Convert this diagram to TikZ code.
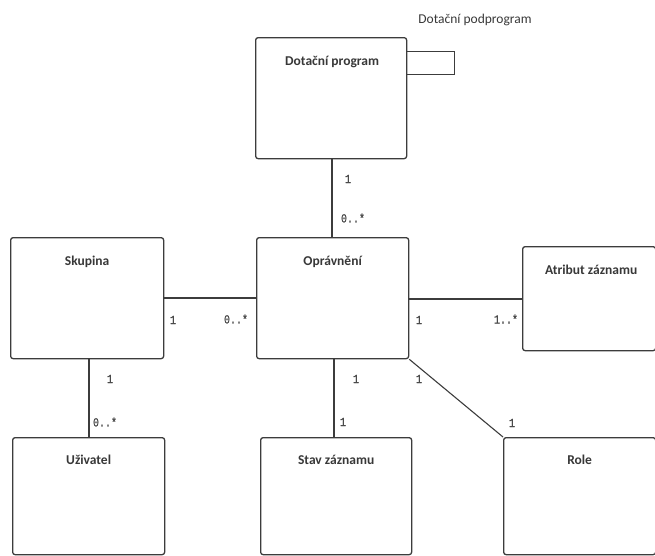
\documentclass[tikz,border=0pt]{standalone}
\usepackage{fontspec}
\setmainfont{Carlito}
\newfontfamily\labelfont[FakeStretch=0.8,FakeBold=0.6]{Liberation Mono}
\usetikzlibrary{calc}
\definecolor{edge}{HTML}{3C3C3C}
\definecolor{ink}{HTML}{383838}
\definecolor{mult}{HTML}{4A4A4A}
\tikzset{
  entity/.style={draw=edge, line width=1.3pt, rounded corners=2.5pt, fill=white,
    anchor=north west, inner sep=0pt},
  etitle/.style={font=\fontsize{13.5}{15}\selectfont\bfseries, text=ink, inner sep=0pt},
  assoc/.style={draw=edge, line width=1.1pt},
  mlabel/.style={font=\labelfont\fontsize{12.5}{13}\selectfont, text=mult, inner sep=0pt},
}
\begin{document}
\begin{tikzpicture}[x=1pt, y=-1pt]
\useasboundingbox (0,0) rectangle (655,555);
\begin{scope}
\clip (0,0) rectangle (655,555);

% entity boxes
\node[entity, minimum width=151pt, minimum height=121pt] (prog)  at (255,37)  {};
\node[entity, minimum width=152pt, minimum height=121pt] (perm)  at (256,237) {};
\node[entity, minimum width=153pt, minimum height=121pt] (grp)   at (10,237)  {};
\node[entity, minimum width=133pt, minimum height=104pt] (attr)  at (522,246) {};
\node[entity, minimum width=152pt, minimum height=117pt] (user)  at (12,437)  {};
\node[entity, minimum width=151pt, minimum height=117pt] (state) at (260,437) {};
\node[entity, minimum width=152pt, minimum height=117pt] (role)  at (503,437) {};

% sub-program tab on the right of the program box
\node[draw=edge, line width=0.8pt, anchor=north west, inner sep=0pt,
      minimum width=48pt, minimum height=23pt] (sub) at (406,51) {};
\node[font=\fontsize{13.5}{15}\selectfont, text=ink, inner sep=0pt] (subt) at (475,20) {Dotační podprogram};

% titles
\node[etitle] (prog-t)  at ($(prog.north)+(1,25)$)  {Dotační program};
\node[etitle] (perm-t)  at ($(perm.north)+(0,25)$)  {Oprávnění};
\node[etitle] (grp-t)   at ($(grp.north)+(0,25)$)   {Skupina};
\node[etitle] (attr-t)  at ($(attr.north)+(2,24)$)  {Atribut záznamu};
\node[etitle] (user-t)  at ($(user.north)+(0,23)$)  {Uživatel};
\node[etitle] (state-t) at ($(state.north)+(0,23)$) {Stav záznamu};
\node[etitle] (role-t)  at ($(role.north)+(0,23)$)  {Role};

% associations
\draw[assoc] (perm.north -| 332,0) coordinate (pn) -- (pn |- prog.south);
\draw[assoc] (grp.east |- 0,298) coordinate (ge) -- (ge -| perm.west);
\draw[assoc] (perm.east |- 0,299) coordinate (pe) -- (pe -| attr.west);
\draw[assoc] (user.north -| 89,0) coordinate (un) -- (un |- grp.south);
\draw[assoc] (state.north -| 334,0) coordinate (sn) -- (sn |- perm.south);
\draw[assoc] (perm.south east) -- (role.north west);

% multiplicities
\node[mlabel] (m1) at (348,179) {1};
\node[mlabel] (m2) at (353,218) {0..*};
\node[mlabel] (m3) at (173,320) {1};
\node[mlabel] (m4) at (236,319) {0..*};
\node[mlabel] (m5) at (419,320) {1};
\node[mlabel] (m6) at (506,319) {1..*};
\node[mlabel] (m7) at (110,379) {1};
\node[mlabel] (m8) at (105,422) {0..*};
\node[mlabel] (m9) at (356,379) {1};
\node[mlabel] (m10) at (343,422) {1};
\node[mlabel] (m11) at (419,379) {1};
\node[mlabel] (m12) at (512,423) {1};
\end{scope}
\end{tikzpicture}
\end{document}
